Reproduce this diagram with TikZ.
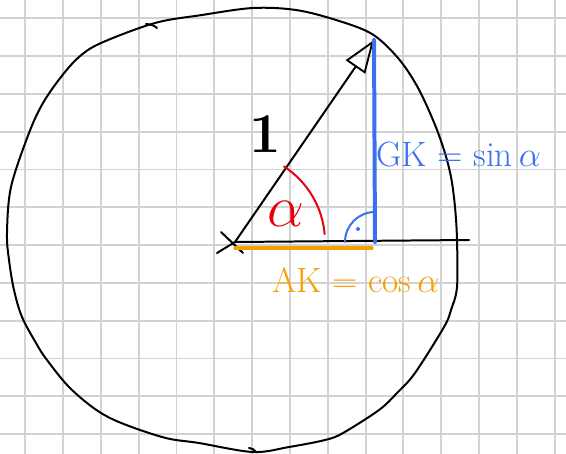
\RequirePackage{fix-cm}
\documentclass[tikz,border=0pt]{standalone}
\usepackage{tikz}
\usetikzlibrary{arrows.meta,calc,positioning}
\definecolor{gitterGrau}{HTML}{D2D2D2}
\definecolor{stiftBlau}{HTML}{3B6FF0}
\definecolor{stiftRot}{HTML}{E8000E}
\definecolor{stiftOrange}{HTML}{F5A000}

\begin{document}
\begin{tikzpicture}[x=0.03cm, y=-0.03cm, line cap=round, line join=round,
  every node/.style={font=\fontsize{30}{30}\selectfont, inner sep=0pt},
  stift/.style={line width=1.7pt}]
\useasboundingbox (0,0) rectangle (566,454);
\fill[white] (0,0) rectangle (566,454);
% Karopapier
\foreach \i in {0,...,14} \draw[gitterGrau, line width=1.7pt] ({25.3+37.8*\i},0) -- ({25.3+37.8*\i},454);
\foreach \j in {0,...,11} \draw[gitterGrau, line width=1.7pt] (0,{18.3+37.8*\j}) -- (566,{18.3+37.8*\j});
% Einheitskreis
\draw[stift] plot[smooth cycle, tension=0.55] coordinates {
  (253,8) (296,10) (336,20) (372,34) (398,58) (417,86) (433,120) (444,150)
  (451,177) (455,207) (457,240) (457,287) (451,310) (444,327) (415,373) (397,393)
  (379,410) (343,433) (325,440) (289,447) (253,452) (199,443) (162,437) (108,417)
  (72,390) (47,360) (36,343) (22,317) (14,290) (9,260) (7,233) (11,187) (29,133)
  (43,103) (61,77) (79,57) (101,43) (155,23) (202,15)};
\draw[stift] (146,24) .. controls (153,25) .. (157,28);
\draw[stift] (249,448) .. controls (253,449) .. (256,452);
% Punkte
\coordinate (O) at (235,242);
\coordinate (P) at (374,40);
\coordinate (F) at (375,242);
\coordinate (E) at (469,240);
% Mittelpunkt
\draw[stift] ($(O)+(-18,11)$) -- (O);
\draw[stift] ($(O)+(-14,-10)$) -- ($(O)+(8,11)$);
% Radius und Achse
\draw[stift, -{Triangle[open, length=28pt, width=20pt, line width=1.6pt]}] (O) -- (P);
\draw[stift] (O) -- (E);
\node[font=\fontsize{48}{48}\selectfont\bfseries, anchor=base] (eins) at (265,153) {1};
% Gegenkathete
\draw[stiftBlau, line width=3.4pt] (P) -- (F);
\draw[stiftBlau, stift] ($(F)+(-30,0)$) arc[start angle=180, end angle=270, radius=30];
\fill[stiftBlau] ($(F)+(-17,-13)$) circle[radius=2];
\node[stiftBlau, anchor=base west] (gk) at (376,166) {GK = sin$\,\alpha$};
% Winkel
\draw[stiftRot, stift] (O) ++(-57:90) arc[start angle=-57, end angle=-5, radius=90];
\node[stiftRot, font=\fontsize{50}{50}\selectfont, anchor=base] (alpha) at (286,226) {$\alpha$};
% Ankathete
\draw[stiftOrange, line width=2.6pt] ($(O)+(0,6)$) -- ($(F)+(-3,6)$);
\node[stiftOrange, anchor=base west] (ak) at (272,292) {AK = cos$\,\alpha$};
\end{tikzpicture}
\end{document}
